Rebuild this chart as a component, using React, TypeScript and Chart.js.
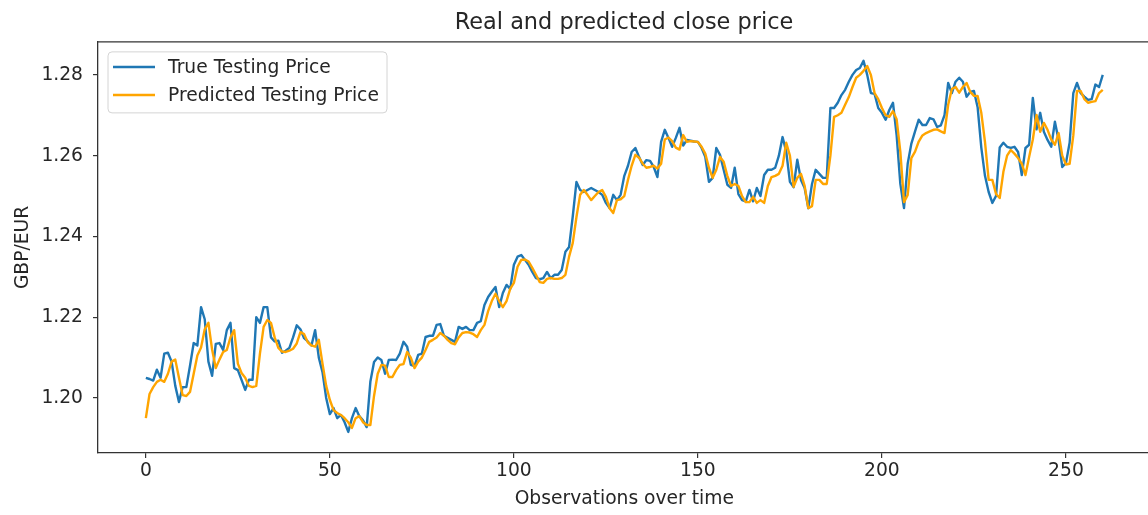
import React, { useEffect, useRef } from "react";
import { Chart, registerables } from "chart.js";

Chart.register(...registerables);

const chartTitle = "Real and predicted close price";
const xAxisTitle = "Observations over time";
const yAxisTitle = "GBP/EUR";
const trueLabel = "True Testing Price";
const predictedLabel = "Predicted Testing Price";

const xTicks = [0, 50, 100, 150, 200, 250];
const yTicks = [1.2, 1.22, 1.24, 1.26, 1.28];

const trueTestingPrice = [
  1.2050, 1.2047, 1.2043, 1.2070, 1.2050, 1.2110, 1.2112, 1.2090, 1.2030, 1.1990,
  1.2027, 1.2027, 1.2080, 1.2136, 1.2130, 1.2225, 1.2195, 1.2090, 1.2055, 1.2134,
  1.2136, 1.2119, 1.2168, 1.2186, 1.2074, 1.2069, 1.2045, 1.2020, 1.2045, 1.2045,
  1.2200, 1.2186, 1.2225, 1.2225, 1.2150, 1.2140, 1.2142, 1.2112, 1.2117, 1.2124,
  1.2150, 1.2180, 1.2170, 1.2148, 1.2140, 1.2130, 1.2168, 1.2100, 1.2064, 1.2000,
  1.1960, 1.1975, 1.1950, 1.1958, 1.1940, 1.1916, 1.1950, 1.1975, 1.1955, 1.1945,
  1.1928, 1.2040, 1.2089, 1.2100, 1.2094, 1.2060, 1.2094, 1.2095, 1.2094, 1.2110,
  1.2139, 1.2127, 1.2082, 1.2079, 1.2107, 1.2110, 1.2151, 1.2154, 1.2154, 1.2181,
  1.2183, 1.2154, 1.2149, 1.2144, 1.2139, 1.2176, 1.2171, 1.2176, 1.2168, 1.2168,
  1.2186, 1.2190, 1.2230, 1.2250, 1.2263, 1.2275, 1.2225, 1.2260, 1.2280, 1.2270,
  1.2330, 1.2350, 1.2354, 1.2342, 1.2330, 1.2312, 1.2297, 1.2294, 1.2297, 1.2312,
  1.2297, 1.2305, 1.2305, 1.2317, 1.2362, 1.2374, 1.2450, 1.2535, 1.2515, 1.2510,
  1.2515, 1.2520, 1.2515, 1.2510, 1.2503, 1.2483, 1.2470, 1.2503, 1.2490, 1.2503,
  1.2550, 1.2575, 1.2609, 1.2619, 1.2597, 1.2577, 1.2589, 1.2587, 1.2572, 1.2547,
  1.2634, 1.2664, 1.2644, 1.2622, 1.2644, 1.2669, 1.2625, 1.2639, 1.2637, 1.2635,
  1.2634, 1.2619, 1.2597, 1.2535, 1.2545, 1.2619, 1.2602, 1.2565, 1.2528, 1.2520,
  1.2570, 1.2505, 1.2490, 1.2487, 1.2515, 1.2487, 1.2520, 1.2500, 1.2552, 1.2565,
  1.2565, 1.2570, 1.2600, 1.2646, 1.2610, 1.2535, 1.2522, 1.2590, 1.2540, 1.2520,
  1.2470, 1.2530, 1.2565, 1.2555, 1.2545, 1.2545, 1.2718, 1.2718, 1.2731, 1.2750,
  1.2763, 1.2783, 1.2800, 1.2812, 1.2817, 1.2835, 1.2800, 1.2755, 1.2753, 1.2718,
  1.2706, 1.2689, 1.2713, 1.2731, 1.2650, 1.2530, 1.2470, 1.2580, 1.2630, 1.2660,
  1.2689, 1.2676, 1.2676, 1.2693, 1.2690, 1.2671, 1.2675, 1.2700, 1.2780, 1.2755,
  1.2783, 1.2793, 1.2783, 1.2746, 1.2758, 1.2760, 1.2720, 1.2620, 1.2550, 1.2510,
  1.2483, 1.2500, 1.2620, 1.2632, 1.2622, 1.2619, 1.2622, 1.2609, 1.2552, 1.2619,
  1.2627, 1.2743, 1.2665, 1.2706, 1.2659, 1.2639, 1.2622, 1.2684, 1.2639, 1.2572,
  1.2582, 1.2632, 1.2755, 1.2780, 1.2755, 1.2746, 1.2738, 1.2740, 1.2776, 1.2770,
  1.2800,
];

const predictedTestingPrice = [
  1.1950, 1.2010, 1.2027, 1.2040, 1.2045, 1.2040, 1.2060, 1.2090, 1.2095, 1.2050,
  1.2007, 1.2005, 1.2015, 1.2060, 1.2105, 1.2125, 1.2170, 1.2186, 1.2120, 1.2074,
  1.2095, 1.2114, 1.2119, 1.2150, 1.2168, 1.2085, 1.2062, 1.2050, 1.2030, 1.2027,
  1.2030, 1.2110, 1.2176, 1.2193, 1.2186, 1.2150, 1.2124, 1.2115, 1.2114, 1.2117,
  1.2122, 1.2135, 1.2163, 1.2158, 1.2138, 1.2130, 1.2127, 1.2144, 1.2085, 1.2030,
  1.1995, 1.1970, 1.1963, 1.1958, 1.1950, 1.1940, 1.1926, 1.1950, 1.1955, 1.1940,
  1.1933, 1.1933, 1.2005, 1.2060, 1.2082, 1.2080, 1.2052, 1.2052, 1.2069, 1.2082,
  1.2084, 1.2114, 1.2100, 1.2074, 1.2090, 1.2100, 1.2119, 1.2139, 1.2144, 1.2150,
  1.2161, 1.2154, 1.2144, 1.2136, 1.2133, 1.2150, 1.2161, 1.2163, 1.2162, 1.2158,
  1.2151, 1.2168, 1.2181, 1.2215, 1.2240, 1.2258, 1.2240, 1.2225, 1.2240, 1.2270,
  1.2285, 1.2325, 1.2342, 1.2343, 1.2338, 1.2322, 1.2305, 1.2287, 1.2285, 1.2295,
  1.2297, 1.2295, 1.2295, 1.2297, 1.2305, 1.2350, 1.2384, 1.2448, 1.2503, 1.2515,
  1.2503, 1.2490, 1.2500, 1.2510, 1.2515, 1.2498, 1.2470, 1.2458, 1.2490, 1.2492,
  1.2500, 1.2540, 1.2575, 1.2602, 1.2595, 1.2580, 1.2570, 1.2572, 1.2575, 1.2568,
  1.2580, 1.2640, 1.2645, 1.2636, 1.2620, 1.2615, 1.2651, 1.2634, 1.2636, 1.2635,
  1.2634, 1.2622, 1.2605, 1.2570, 1.2545, 1.2565, 1.2597, 1.2585, 1.2550, 1.2525,
  1.2530, 1.2525, 1.2500, 1.2485, 1.2485, 1.2498, 1.2483, 1.2490, 1.2483, 1.2525,
  1.2547, 1.2550, 1.2555, 1.2575, 1.2632, 1.2600, 1.2523, 1.2545, 1.2555, 1.2525,
  1.2470, 1.2475, 1.2540, 1.2540, 1.2530, 1.2530, 1.2600, 1.2696, 1.2700, 1.2706,
  1.2726, 1.2745, 1.2770, 1.2793, 1.2800, 1.2810, 1.2822, 1.2800, 1.2755, 1.2740,
  1.2718, 1.2700, 1.2696, 1.2710, 1.2690, 1.2610, 1.2485, 1.2503, 1.2594, 1.2610,
  1.2635, 1.2650, 1.2656, 1.2660, 1.2664, 1.2665, 1.2660, 1.2656, 1.2726, 1.2765,
  1.2770, 1.2756, 1.2770, 1.2780, 1.2758, 1.2748, 1.2748, 1.2706, 1.2634, 1.2540,
  1.2540, 1.2505, 1.2495, 1.2560, 1.2600, 1.2614, 1.2605, 1.2594, 1.2580, 1.2552,
  1.2597, 1.2640, 1.2701, 1.2659, 1.2681, 1.2664, 1.2640, 1.2627, 1.2656, 1.2600,
  1.2578, 1.2580, 1.2650, 1.2760, 1.2760, 1.2740, 1.2731, 1.2733, 1.2735, 1.2755,
  1.2763,
];

const FONT = "'DejaVu Sans', 'Liberation Sans', sans-serif";
const TEXT = "#262626";
const AXIS = "#333";
const CANVAS_W = 1248;
const CANVAS_H = 515;
const LABEL_SIZE = 18.7;
const TITLE_SIZE = 22.4;

const frameAndLegend = {
  id: "frameAndLegend",
  afterDatasetsDraw(chart: any) {
    const { ctx, chartArea: a } = chart;
    ctx.save();
    // top spine
    ctx.strokeStyle = AXIS;
    ctx.lineWidth = 1.3;
    ctx.beginPath();
    ctx.moveTo(a.left, a.top);
    ctx.lineTo(a.right + 2, a.top);
    ctx.stroke();

    // legend box
    const x0 = a.left + 10;
    const y0 = a.top + 10;
    const w = 279;
    const h = 61;
    const r = 4;
    ctx.beginPath();
    ctx.moveTo(x0 + r, y0);
    ctx.lineTo(x0 + w - r, y0);
    ctx.arcTo(x0 + w, y0, x0 + w, y0 + r, r);
    ctx.lineTo(x0 + w, y0 + h - r);
    ctx.arcTo(x0 + w, y0 + h, x0 + w - r, y0 + h, r);
    ctx.lineTo(x0 + r, y0 + h);
    ctx.arcTo(x0, y0 + h, x0, y0 + h - r, r);
    ctx.lineTo(x0, y0 + r);
    ctx.arcTo(x0, y0, x0 + r, y0, r);
    ctx.closePath();
    ctx.fillStyle = "rgba(255,255,255,0.8)";
    ctx.fill();
    ctx.strokeStyle = "#d4d4d4";
    ctx.lineWidth = 1;
    ctx.stroke();

    const items = [...chart.data.datasets].sort((p: any, q: any) => p.legendIndex - q.legendIndex);
    items.forEach((ds: any, k: number) => {
      const cy = y0 + 15 + k * 28;
      ctx.strokeStyle = ds.borderColor;
      ctx.lineWidth = 2.5;
      ctx.beginPath();
      ctx.moveTo(x0 + 5, cy);
      ctx.lineTo(x0 + 47, cy);
      ctx.stroke();
      ctx.fillStyle = TEXT;
      ctx.font = `${LABEL_SIZE}px ${FONT}`;
      ctx.textBaseline = "middle";
      ctx.textAlign = "left";
      ctx.fillText(ds.label, x0 + 60, cy + 1);
    });
    ctx.restore();
  },
};

export default function App() {
  const canvasRef = useRef<HTMLCanvasElement | null>(null);

  useEffect(() => {
    if (!canvasRef.current) return;
    const observations = trueTestingPrice.map((_, i) => i);
    const chart = new Chart(canvasRef.current, {
      type: "line",
      data: {
        datasets: [
          {
            label: trueLabel,
            legendIndex: 0,
            data: observations.map((x) => ({ x, y: trueTestingPrice[x] })),
            borderColor: "#1f77b4",
            backgroundColor: "#1f77b4",
            borderWidth: 2.4,
            pointRadius: 0,
            tension: 0,
            borderJoinStyle: "round",
            order: 2,
          } as any,
          {
            label: predictedLabel,
            legendIndex: 1,
            data: observations.map((x) => ({ x, y: predictedTestingPrice[x] })),
            borderColor: "#ffa500",
            backgroundColor: "#ffa500",
            borderWidth: 2.4,
            pointRadius: 0,
            tension: 0,
            borderJoinStyle: "round",
            order: 1,
          } as any,
        ],
      },
      options: {
        animation: false,
        responsive: false,
        devicePixelRatio: 1,
        layout: { padding: 0 },
        plugins: {
          legend: { display: false },
          tooltip: { enabled: false },
          title: {
            display: true,
            text: chartTitle,
            color: TEXT,
            font: { family: FONT, size: TITLE_SIZE, weight: "normal" },
            padding: { top: 10, bottom: 5 },
          },
        },
        scales: {
          x: {
            type: "linear",
            min: -13,
            max: 273,
            afterBuildTicks: (s: any) => {
              s.ticks = xTicks.map((v) => ({ value: v }));
            },
            afterFit: (s: any) => {
              s.height = CANVAS_H - 453;
            },
            grid: { drawOnChartArea: false, drawTicks: true, tickLength: 5, color: AXIS, lineWidth: 1.2 },
            border: { display: true, color: AXIS, width: 1.3 },
            ticks: {
              color: TEXT,
              font: { family: FONT, size: LABEL_SIZE },
              padding: 1.5,
              maxRotation: 0,
              autoSkip: false,
              callback: (v: any) => String(v),
            },
            title: {
              display: true,
              text: xAxisTitle,
              color: TEXT,
              font: { family: FONT, size: LABEL_SIZE },
              padding: { top: 0, bottom: 5 },
            },
          },
          y: {
            type: "linear",
            position: "left",
            min: 1.18638,
            max: 1.28817,
            afterBuildTicks: (s: any) => {
              s.ticks = yTicks.map((v) => ({ value: v }));
            },
            afterFit: (s: any) => {
              s.width = 98;
            },
            grid: { drawOnChartArea: false, drawTicks: true, tickLength: 5, color: AXIS, lineWidth: 1.2 },
            border: { display: true, color: AXIS, width: 1.3 },
            ticks: {
              color: TEXT,
              font: { family: FONT, size: LABEL_SIZE },
              padding: 10,
              autoSkip: false,
              callback: (v: any) => Number(v).toFixed(2),
            },
            title: {
              display: true,
              text: yAxisTitle,
              color: TEXT,
              font: { family: FONT, size: LABEL_SIZE },
              padding: { top: 12, bottom: 0 },
            },
          },
          yRight: {
            type: "linear",
            position: "right",
            display: true,
            min: 0,
            max: 1,
            afterFit: (s: any) => {
              s.width = CANVAS_W - 1150.6;
            },
            grid: { display: false, drawTicks: false },
            border: { display: false },
            ticks: { display: false },
          },
        },
      } as any,
      plugins: [frameAndLegend],
    });
    return () => chart.destroy();
  }, []);

  return (
    <div
      style={{
        position: "fixed",
        left: 0,
        top: 0,
        width: 1148,
        height: 515,
        overflow: "hidden",
        background: "#fff",
      }}
    >
      <canvas ref={canvasRef} width={CANVAS_W} height={CANVAS_H} style={{ display: "block" }} />
    </div>
  );
}
